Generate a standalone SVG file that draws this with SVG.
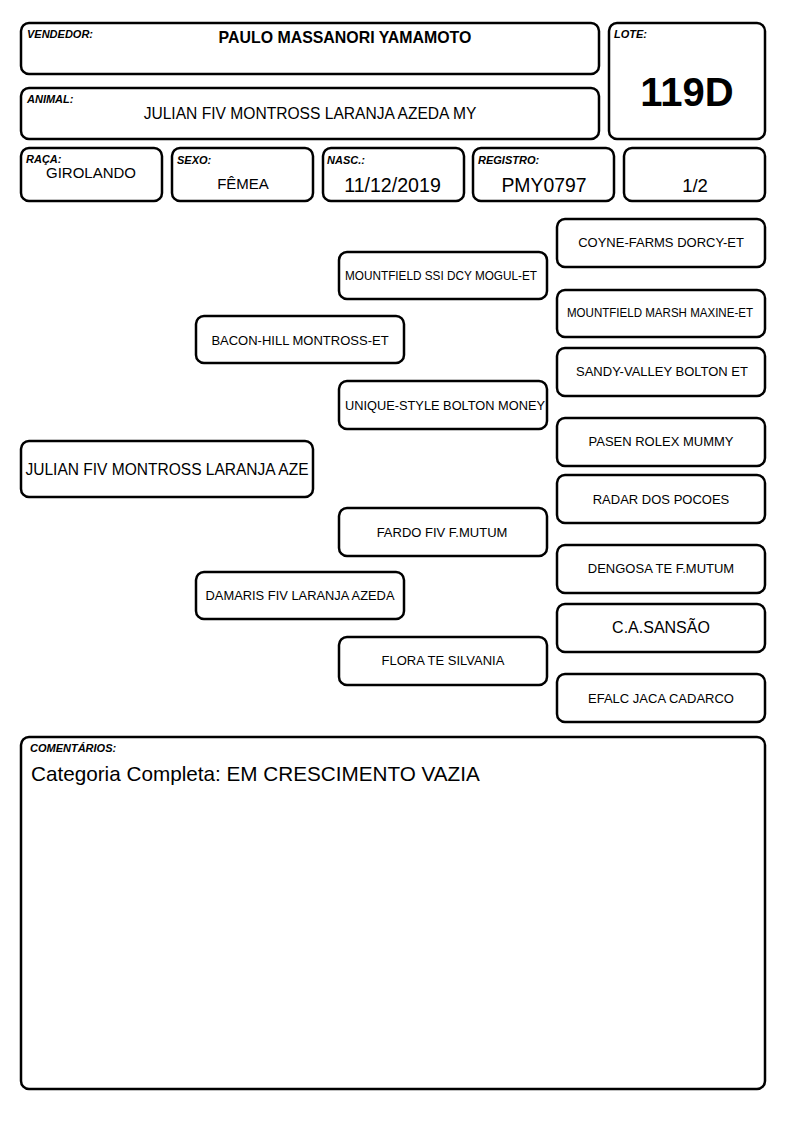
<svg xmlns="http://www.w3.org/2000/svg" width="794" height="1123" viewBox="0 0 794 1123">
<style>
.b{fill:#fff;stroke:#000;stroke-width:2.5}
.l{font-family:"Liberation Sans",Arial,sans-serif;font-size:11px;font-weight:bold;font-style:italic;fill:#000}
.t{font-family:"Liberation Sans",Arial,sans-serif;fill:#000;text-anchor:middle}
.p{font-family:"Liberation Sans",Arial,sans-serif;fill:#000;text-anchor:middle;font-size:13px}
</style>
<rect width="794" height="1123" fill="#fff"/>
<g id="vendedor"><rect class="b" x="21" y="23" width="578" height="51" rx="8"/><text class="l" x="27" y="38">VENDEDOR:</text><text class="t" x="345" y="43" font-size="15.9" font-weight="bold">PAULO MASSANORI YAMAMOTO</text></g>
<g id="animal"><rect class="b" x="21" y="88" width="578" height="51" rx="8"/><text class="l" x="27" y="103">ANIMAL:</text><text class="t" x="310" y="119" font-size="15.6">JULIAN FIV MONTROSS LARANJA AZEDA MY</text></g>
<g id="lote"><rect class="b" x="609" y="23" width="156" height="116" rx="8"/><text class="l" x="614" y="38">LOTE:</text><text class="t" x="687" y="106" font-size="40" font-weight="bold">119D</text></g>
<g id="raca"><rect class="b" x="21" y="148" width="141" height="53" rx="8"/><text class="l" x="26" y="163">RAÇA:</text><text class="t" x="91" y="178" font-size="15">GIROLANDO</text></g>
<g id="sexo"><rect class="b" x="172" y="148" width="141" height="53" rx="8"/><text class="l" x="177" y="164">SEXO:</text><text class="t" x="243" y="189" font-size="15">FÊMEA</text></g>
<g id="nasc"><rect class="b" x="323" y="148" width="141" height="53" rx="8"/><text class="l" x="327" y="164">NASC.:</text><text class="t" x="392.5" y="192" font-size="19.6">11/12/2019</text></g>
<g id="registro"><rect class="b" x="473" y="148" width="141" height="53" rx="8"/><text class="l" x="478" y="164">REGISTRO:</text><text class="t" x="544" y="192" font-size="19.4">PMY0797</text></g>
<g id="grau"><rect class="b" x="624" y="148" width="141" height="53" rx="8"/><text class="t" x="695" y="192" font-size="18.5">1/2</text></g>
<g id="connectors"></g>
<g id="n-animal"><rect class="b" x="21" y="441" width="292" height="56" rx="8"/><text class="t" x="167" y="475" font-size="16" textLength="283" lengthAdjust="spacingAndGlyphs">JULIAN FIV MONTROSS LARANJA AZE</text></g>
<g id="n-pai"><rect class="b" x="196" y="316" width="208" height="47" rx="8"/><text class="p" x="300" y="344.5">BACON-HILL MONTROSS-ET</text></g>
<g id="n-mae"><rect class="b" x="196" y="572" width="208" height="47" rx="8"/><text class="p" x="300" y="600" textLength="189" lengthAdjust="spacingAndGlyphs">DAMARIS FIV LARANJA AZEDA</text></g>
<g id="n-avo1"><rect class="b" x="339" y="252" width="208" height="47" rx="8"/><text class="p" x="441" y="280" font-size="12" textLength="192" lengthAdjust="spacingAndGlyphs">MOUNTFIELD SSI DCY MOGUL-ET</text></g>
<g id="n-avo2"><rect class="b" x="339" y="381" width="208" height="48" rx="8"/><text class="p" x="445" y="410" textLength="200" lengthAdjust="spacingAndGlyphs">UNIQUE-STYLE BOLTON MONEY</text></g>
<g id="n-avo3"><rect class="b" x="339" y="508" width="208" height="48" rx="8"/><text class="p" x="442" y="537">FARDO FIV F.MUTUM</text></g>
<g id="n-avo4"><rect class="b" x="339" y="637" width="208" height="48" rx="8"/><text class="p" x="443" y="665">FLORA TE SILVANIA</text></g>
<g id="n-b1"><rect class="b" x="557" y="219" width="208" height="48" rx="8"/><text class="p" x="661" y="247">COYNE-FARMS DORCY-ET</text></g>
<g id="n-b2"><rect class="b" x="557" y="290" width="208" height="47" rx="8"/><text class="p" x="660" y="317" font-size="12" textLength="186" lengthAdjust="spacingAndGlyphs">MOUNTFIELD MARSH MAXINE-ET</text></g>
<g id="n-b3"><rect class="b" x="557" y="348" width="208" height="48" rx="8"/><text class="p" x="662" y="376">SANDY-VALLEY BOLTON ET</text></g>
<g id="n-b4"><rect class="b" x="557" y="418" width="208" height="48" rx="8"/><text class="p" x="661" y="446">PASEN ROLEX MUMMY</text></g>
<g id="n-b5"><rect class="b" x="557" y="475" width="208" height="48" rx="8"/><text class="p" x="661" y="504">RADAR DOS POCOES</text></g>
<g id="n-b6"><rect class="b" x="557" y="545" width="208" height="48" rx="8"/><text class="p" x="661" y="573">DENGOSA TE F.MUTUM</text></g>
<g id="n-b7"><rect class="b" x="557" y="604" width="208" height="48" rx="8"/><text class="t" x="661" y="633" font-size="16">C.A.SANSÃO</text></g>
<g id="n-b8"><rect class="b" x="557" y="674" width="208" height="48" rx="8"/><text class="p" x="661" y="703">EFALC JACA CADARCO</text></g>
<g id="comentarios"><rect class="b" x="21" y="737" width="744" height="352" rx="8"/><text class="l" x="30" y="752">COMENTÁRIOS:</text><text x="31" y="781" font-family="Liberation Sans, Arial, sans-serif" font-size="20.7">Categoria Completa: EM CRESCIMENTO VAZIA</text></g>
</svg>
